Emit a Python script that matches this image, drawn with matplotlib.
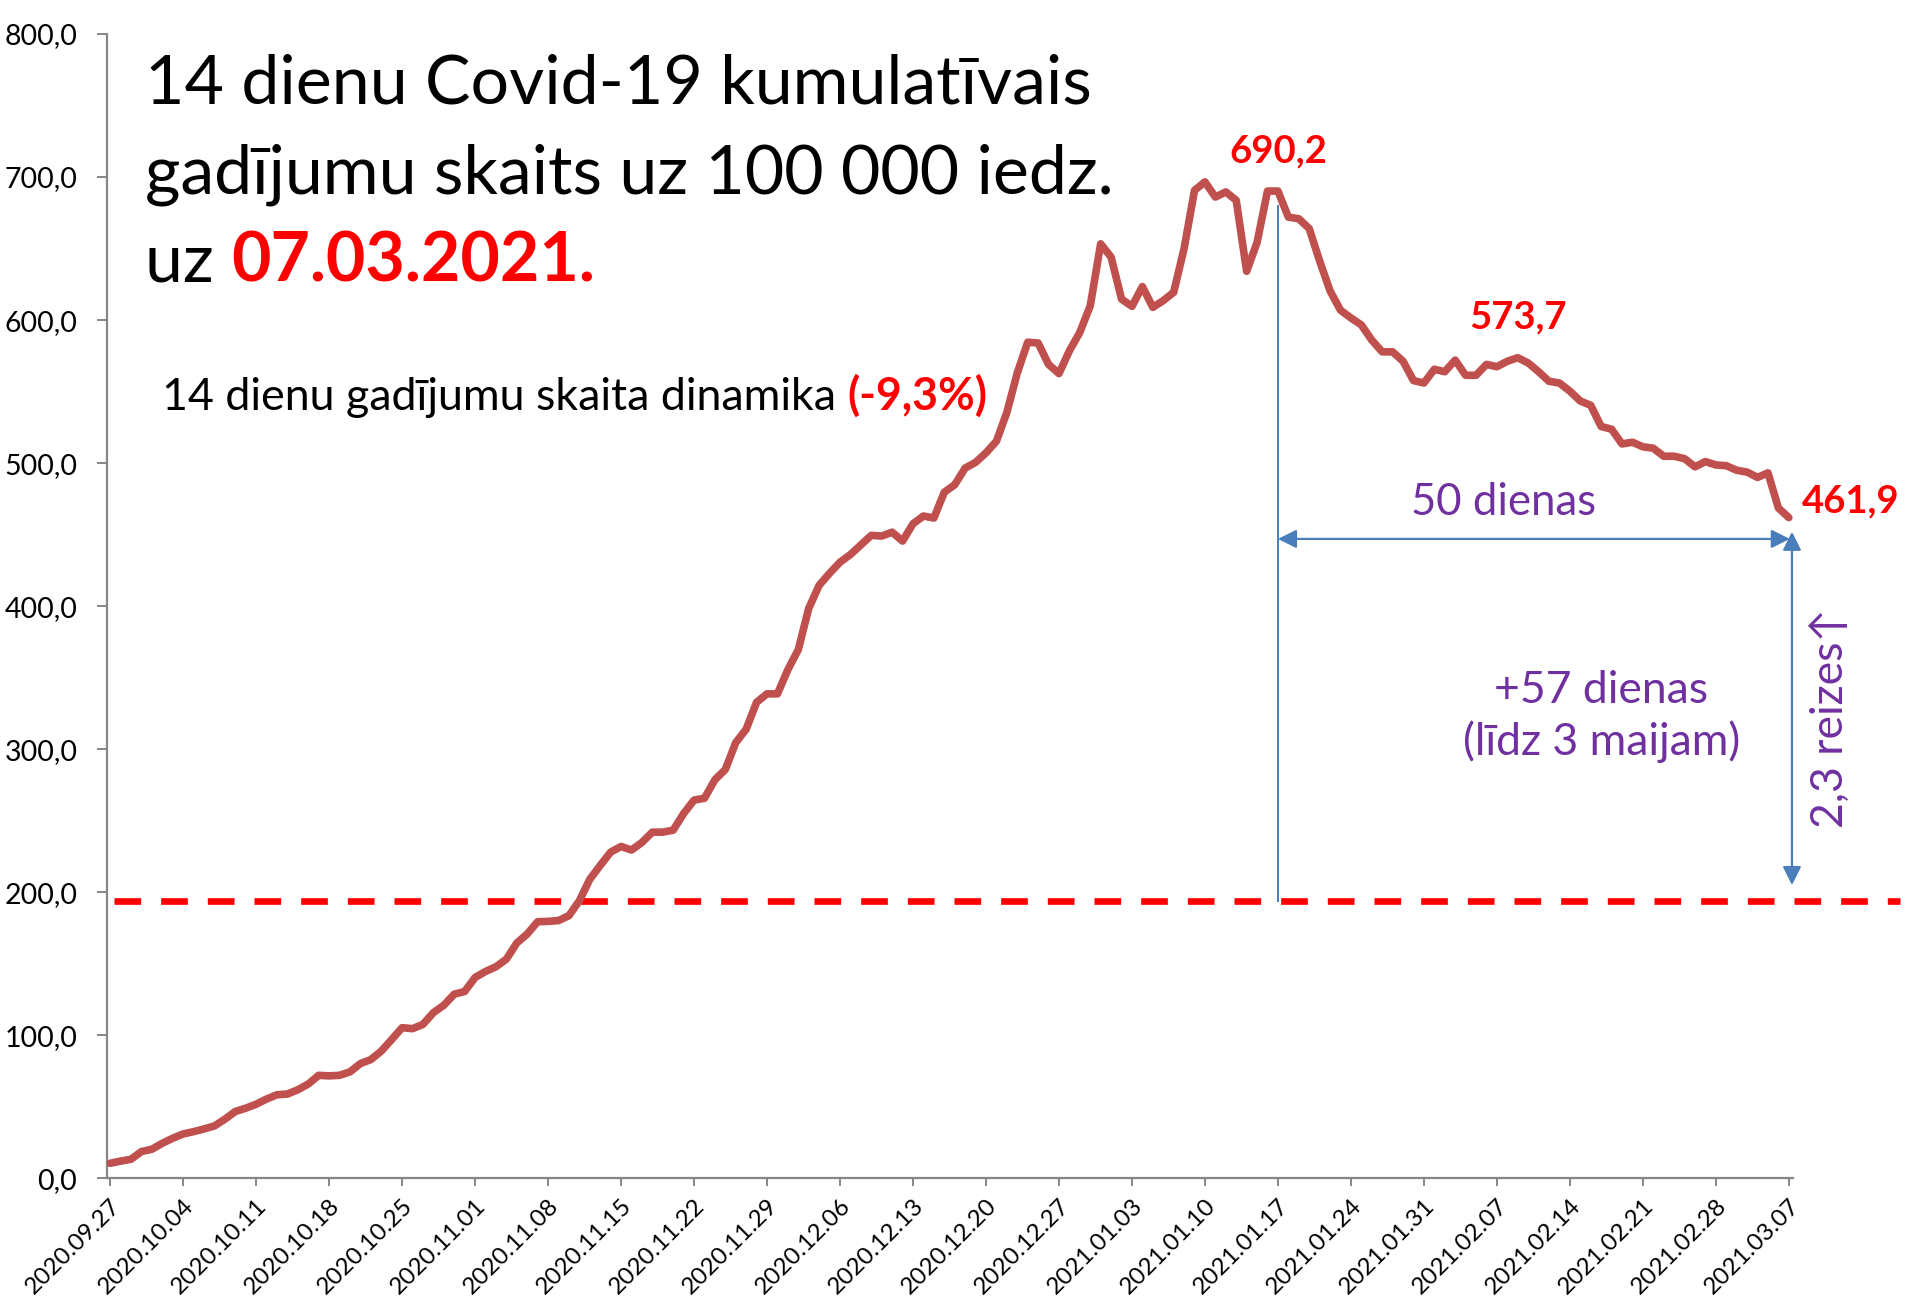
import numpy as np
import pandas as pd
import matplotlib
matplotlib.use("Agg")
import matplotlib.pyplot as plt
from matplotlib.ticker import FuncFormatter

plt.rcParams['font.family'] = ['Lato', 'DejaVu Sans']

# daily dates and 14-day cumulative cases per 100 000
dates = pd.date_range('2020-09-27', '2021-03-07', freq='D')
cases = [
    10.5, 12.0, 13.3, 18.7, 20.3, 24.5, 28.0, 31.0, 32.6, 34.5,
    36.6, 41.3, 46.7, 49.0, 51.8, 55.4, 58.4, 58.9, 61.9, 65.9,
    72.0, 71.6, 72.0, 74.4, 80.2, 83.0, 88.9, 97.0, 105.3, 104.6,
    107.6, 115.8, 121.0, 128.7, 130.6, 140.4, 144.6, 147.9, 153.2, 164.5,
    170.8, 179.4, 179.6, 180.2, 183.6, 194.0, 209.0, 218.7, 228.0, 232.0,
    229.5, 234.8, 242.0, 242.0, 243.4, 255.0, 264.4, 265.7, 278.6, 285.8,
    304.6, 314.0, 332.8, 338.7, 338.7, 355.6, 369.6, 398.5, 414.6, 423.0,
    430.7, 436.1, 442.8, 449.5, 449.0, 451.7, 445.5, 457.6, 463.0, 461.6,
    479.6, 484.9, 496.5, 500.5, 507.2, 515.3, 535.4, 563.0, 584.5, 584.0,
    569.0, 562.6, 578.5, 591.4, 610.0, 653.3, 644.0, 614.7, 609.6, 623.4,
    608.9, 613.6, 619.4, 650.0, 690.7, 696.6, 686.0, 689.6, 683.7, 634.1,
    654.3, 690.2, 690.2, 672.0, 670.8, 664.0, 641.3, 620.4, 606.9, 601.5,
    596.6, 586.0, 577.8, 577.8, 571.2, 557.7, 556.0, 565.6, 563.9, 572.0,
    561.4, 561.4, 569.0, 567.4, 571.2, 573.7, 570.0, 563.9, 557.2, 556.0,
    550.3, 543.4, 540.4, 525.6, 523.7, 513.4, 514.6, 511.4, 510.4, 504.8,
    504.8, 503.1, 497.4, 501.1, 498.7, 498.2, 495.0, 493.7, 490.0, 493.2,
    468.6, 461.9,
]
threshold = 194.0          # red dashed line as drawn
peak_day, mid_day, last_day = 112, 135, 161
labels_pt = ['690,2', '573,7', '461,9']

days = np.arange(len(dates))
tick_days = days[::7]
tick_labels = [d.strftime('%Y.%m.%d') for d in dates[::7]]

LINE = '#C0504D'
BLUE = '#4A7EBB'
PURPLE = '#7030A0'
RED = '#FF0000'
GRAY = '#868686'

W, H = 1905, 1300
fig = plt.figure(figsize=(W / 100, H / 100), dpi=100)
ax = fig.add_axes([106.5 / W, (H - 1178.3) / H, (1793 - 106.5) / W, (1178.3 - 34) / H])

ax.plot(days, cases, color=LINE, lw=5.5, solid_capstyle='round', solid_joinstyle='round', zorder=3)
ax.set_xlim(-0.35, 161.4)
ax.set_ylim(0, 800)

for s in ['top', 'right']:
    ax.spines[s].set_visible(False)
for s in ['left', 'bottom']:
    ax.spines[s].set_color(GRAY)
    ax.spines[s].set_linewidth(1.6)

ax.set_yticks(np.arange(0, 801, 100))
ax.yaxis.set_major_formatter(FuncFormatter(lambda v, p: f'{v:.1f}'.replace('.', ',')))
ax.set_xticks(tick_days)
ax.set_xticklabels(tick_labels, rotation=45, ha='right', rotation_mode='anchor')
ax.tick_params(axis='x', direction='out', length=6, width=1.4, color=GRAY, labelsize=17.5, pad=6)
ax.tick_params(axis='y', direction='out', length=7, width=1.4, color=GRAY, labelsize=20.5, pad=14)

# threshold line (runs past the plot area)
ax.plot([0.33, 171.7], [threshold, threshold], color=RED, lw=4.8, dashes=(4, 3),
        clip_on=False, zorder=2)

# 50-day span markers
ax.plot([peak_day, peak_day], [threshold, 680], color=BLUE, lw=1.4, zorder=2)
ax.annotate('', xy=(peak_day, 447), xytext=(last_day + 0.1, 447),
            arrowprops=dict(arrowstyle='<|-|>', color=BLUE, lw=1.6, mutation_scale=28,
                            shrinkA=0, shrinkB=0))
ax.annotate('', xy=(last_day + 0.3, 452), xytext=(last_day + 0.3, 205),
            arrowprops=dict(arrowstyle='<|-|>', color=BLUE, lw=1.6, mutation_scale=28,
                            shrinkA=0, shrinkB=0), annotation_clip=False)

ax.text(133.6, 463.8, '50 dienas', color=PURPLE, fontsize=31.5, ha='center', va='baseline')
ax.text(143.0, 332.4, '+57 dienas', color=PURPLE, fontsize=32, ha='center', va='baseline')
ax.text(143.0, 296.0, '(līdz 3 maijam)', color=PURPLE, fontsize=32, ha='center', va='baseline')
ax.text(165.0, 322.0, '2,3 reizes↑', color=PURPLE, fontsize=32, ha='center', va='center',
        rotation=90, clip_on=False)

# value labels
for d, lab, off, ha in [(peak_day, labels_pt[0], (0, 29), 'center'),
                        (mid_day, labels_pt[1], (0, 29), 'center'),
                        (last_day, labels_pt[2], (13, 5), 'left')]:
    ax.annotate(lab, xy=(d, cases[d]), xytext=off, textcoords='offset pixels',
                ha=ha, va='baseline', color=RED, fontsize=27.5, fontweight='bold',
                annotation_clip=False)

# title block
tx = 145 / W
fig.text(tx, 1 - 103 / H, '14 dienu Covid-19 kumulatīvais', fontsize=49, va='baseline')
fig.text(tx, 1 - 193 / H, 'gadījumu skaits uz 100 000 iedz.', fontsize=49, va='baseline')
t3 = fig.text(tx, 1 - 282 / H, 'uz ', fontsize=49, va='baseline')
fig.canvas.draw()
ax.annotate('07.03.2021.', xy=(1, 0), xycoords=t3, va='bottom', ha='left',
            fontsize=49, fontweight='bold', color=RED)

s1 = fig.text(162 / W, 1 - 410 / H, '14 dienu gadījumu skaita dinamika ', fontsize=32.2,
              va='baseline')
fig.canvas.draw()
ax.annotate('(-9,3%)', xy=(1, 0), xycoords=s1, va='bottom', ha='left',
            fontsize=32.2, fontweight='bold', color=RED)

fig.savefig('out.png', dpi=100)
